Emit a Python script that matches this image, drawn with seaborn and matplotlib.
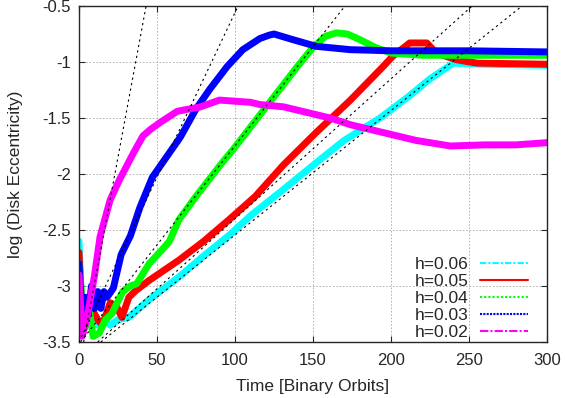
import matplotlib
matplotlib.use("Agg")
import matplotlib.pyplot as plt
from matplotlib.lines import Line2D
import seaborn as sns

# h = 0.06 (cyan)
t06 = [0, 2, 5, 8, 12, 16, 20, 25, 32, 45, 64, 80, 96, 111, 130, 152, 170, 193, 212, 225, 240, 260, 300]
e06 = [-2.6, -3.3, -3.35, -3.3, -3.35, -3.3, -3.35, -3.3, -3.28, -3.12, -2.92, -2.73, -2.55, -2.36,
       -2.15, -1.9, -1.7, -1.5, -1.3, -1.15, -1.01, -1.02, -1.03]
# h = 0.05 (red)
t05 = [0, 2, 5, 8, 12, 15, 20, 24, 27.5, 32, 36.5, 45, 64, 80, 96, 113, 131, 152, 174, 195, 201,
       212, 223, 229, 242, 255, 300]
e05 = [-2.7, -3.3, -3.25, -3.2, -3.3, -3.35, -3.15, -3.18, -3.28, -3.1, -3.04, -2.95, -2.77, -2.6,
       -2.41, -2.2, -1.92, -1.63, -1.34, -1.04, -0.95, -0.83, -0.83, -0.92, -0.98, -1.01, -1.02]
# h = 0.04 (green)
t04 = [0, 3, 6, 9, 13, 17, 21, 28, 33, 37, 45, 53, 58, 64, 75, 90, 100, 110, 120, 130, 140, 150,
       158, 165, 172, 180, 190, 200, 220, 250, 300]
e04 = [-2.8, -3.3, -3.15, -3.45, -3.42, -3.3, -3.25, -3.05, -3.0, -2.98, -2.8, -2.68, -2.6, -2.41,
       -2.2, -1.93, -1.76, -1.58, -1.4, -1.22, -1.04, -0.87, -0.77, -0.74, -0.75, -0.8, -0.87, -0.92,
       -0.94, -0.94, -0.94]
# h = 0.03 (blue)
t03 = [0, 2, 4, 6, 8, 10, 12, 14, 16, 18, 22, 27, 33, 39, 47, 56, 65, 75, 84, 95, 105, 116, 122,
       125, 137, 152, 174, 200, 250, 300]
e03 = [-2.8, -3.3, -3.1, -3.25, -3.0, -3.2, -3.05, -3.2, -3.05, -3.1, -3.02, -2.72, -2.55, -2.3,
       -2.03, -1.85, -1.67, -1.42, -1.24, -1.04, -0.89, -0.79, -0.76, -0.75, -0.8, -0.86, -0.89, -0.9,
       -0.9, -0.91]
# h = 0.02 (magenta)
t02 = [0, 2, 5, 10, 13.5, 20, 26, 35, 41, 46, 52, 63, 78, 90, 100, 110, 116, 131, 152, 161, 174,
       195, 216, 238, 260, 280, 300]
e02 = [-2.9, -3.45, -3.3, -2.9, -2.56, -2.23, -2.05, -1.81, -1.66, -1.6, -1.54, -1.44, -1.4, -1.34,
       -1.35, -1.36, -1.38, -1.4, -1.47, -1.5, -1.56, -1.63, -1.7, -1.75, -1.74, -1.74, -1.72]

labels = ["h=0.06", "h=0.05", "h=0.04", "h=0.03", "h=0.02"]
colors = ["#00ffff", "#ff0000", "#00ff00", "#0000ff", "#ff00ff"]
styles = [(0, (3, 1, 1, 1)), "-", (0, (1, 1)), (0, (1, 0.6)), (0, (4, 1, 1, 1))]
series = [(t06, e06), (t05, e05), (t04, e04), (t03, e03), (t02, e02)]

# dashed exponential-growth fits: (t_start, t_end), (e_start, e_end)
fit_t = [(14, 284), (12, 252), (1, 170.5), (0, 102), (3, 43)]
fit_e = [(-3.5, -0.5)] * 5

xticks = [0, 50, 100, 150, 200, 250, 300]
yticks = [-0.5, -1, -1.5, -2, -2.5, -3, -3.5]
ytick_labels = ["-0.5", "-1", "-1.5", "-2", "-2.5", "-3", "-3.5"]

sns.set_style("ticks")
plt.rcParams["font.family"] = ["Liberation Sans", "DejaVu Sans"]

fig, ax = plt.subplots(figsize=(5.65, 3.98), dpi=100)
fig.subplots_adjust(left=79 / 565, right=547 / 565, bottom=1 - 342 / 398, top=1 - 6 / 398)

for (t, e), c in zip(series, colors):
    sns.lineplot(x=t, y=e, color=c, lw=5, sort=False, ax=ax, legend=False, zorder=2)

for ft, fe in zip(fit_t, fit_e):
    sns.lineplot(x=list(ft), y=list(fe), color="black", lw=0.8, ax=ax, legend=False,
                 zorder=3).lines[-1].set_dashes((2, 3))

ax.set_xlim(0, 300)
ax.set_ylim(-3.5, -0.5)
ax.set_xticks(xticks)
ax.set_yticks(yticks)
ax.set_yticklabels(ytick_labels)
ax.grid(True, color="#aaaaaa", ls=(0, (2, 2)), lw=0.6)
ax.tick_params(direction="in", top=True, right=True, length=4, labelsize=12)
ax.tick_params(axis="x", pad=8)
ax.tick_params(axis="y", pad=6)
for s in ax.spines.values():
    s.set_linewidth(1.0)
ax.set_xlabel("Time [Binary Orbits]", fontsize=12.5, labelpad=8)
ax.set_ylabel("log (Disk Eccentricity)", fontsize=12.5, labelpad=14)

handles = [Line2D([], [], color=c, ls=s, lw=1.5) for c, s in zip(colors, styles)]
ax.legend(handles, labels, loc="lower right", bbox_to_anchor=(0.959, 0.006), frameon=False,
          markerfirst=False, handlelength=2.75, handletextpad=0.65, labelspacing=0.1,
          fontsize=12.5, borderaxespad=0.0, borderpad=0.0)

plt.savefig("out.png", dpi=100)
